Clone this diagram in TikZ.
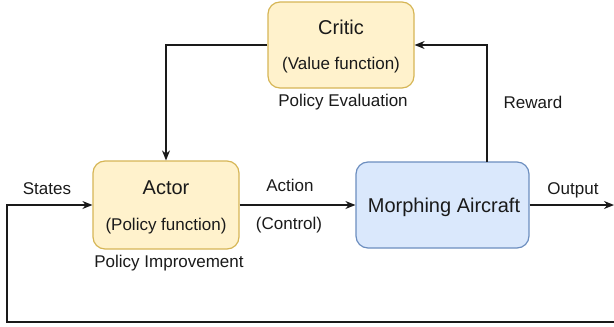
\documentclass[tikz,border=0pt]{standalone}
\usepackage{fontspec}
\setmainfont{Liberation Sans}
\usepackage{tikz}
\usetikzlibrary{arrows.meta}
\definecolor{critfill}{HTML}{FFF2CC}
\definecolor{critline}{HTML}{D6B656}
\definecolor{plantfill}{HTML}{DAE8FC}
\definecolor{plantline}{HTML}{6C8EBF}
\definecolor{ink}{HTML}{1A1A1A}
\tikzset{ybox/.style = {rectangle, rounded corners=12pt, draw=critline, fill=critfill, line width=1.2pt, inner sep=0pt},
           bbox/.style = {rectangle, rounded corners=12pt, draw=plantline, fill=plantfill, line width=1.2pt, inner sep=0pt},
           ttl/.style = {text=ink, inner sep=0pt, font=\fontsize{20}{24}\selectfont},
           txt/.style = {text=ink, inner sep=0pt, font=\fontsize{17}{20}\selectfont},
           con/.style = {line width=1.5pt, draw=ink}}

\begin{document}
\begin{tikzpicture}[x=1pt, y=-1pt, >={Stealth[length=10pt, width=8pt]}]
    \useasboundingbox (0,0) rectangle (614,327);
    \node[ybox, minimum width=146pt, minimum height=86pt] (critic) at (341,45) {};
    \node[ybox, minimum width=146pt, minimum height=88pt] (actor)  at (166,205) {};
    \node[bbox, minimum width=173pt, minimum height=86pt] (plant)  at (442.5,205) {};
    \node[ttl] (critT) at (341,27)  {Critic};
    \node[txt] (critS) at (341,65)  {(Value function)};
    \node[ttl] (actT)  at (166,188) {Actor};
    \node[txt] (actS)  at (166,226) {(Policy function)};
    \node[ttl] (plaT)  at (444,207) {Morphing Aircraft};
    \node[txt] (eval)  at (343,102) {Policy Evaluation};
    \node[txt] (impr)  at (169,263) {Policy Improvement};
    \node[txt] (st)    at (47,189)  {States};
    \node[txt] (act)   at (290,185) {Action};
    \node[txt] (ctl)   at (289,225) {(Control)};
    \node[txt] (rew)   at (533,102) {Reward};
    \node[txt] (outp)  at (573,190) {Output};
    \coordinate (out) at (614,205);
    \coordinate (rw)  at (487,162);
    \coordinate (fb)  at (614,322);
    \coordinate (lft) at (7,322);
    \draw[con, ->] (critic.west) -| (actor.north);
    \draw[con, ->] (actor.east) -- (plant.west);
    \draw[con, ->] (plant.east) -- (out);
    \draw[con, ->] (rw) |- (critic.east);
    \draw[con, ->] (fb) -- (lft) |- (actor.west);
  \end{tikzpicture}
\end{document}
